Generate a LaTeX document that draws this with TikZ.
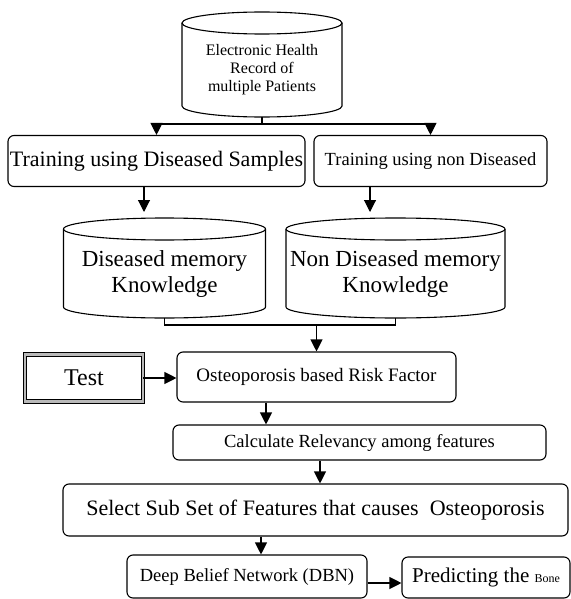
\documentclass[tikz,border=0pt]{standalone}
\usepackage{fontspec}
\setmainfont{Liberation Serif}
\usetikzlibrary{arrows.meta}

\tikzset{
  box/.style={draw, rounded corners=6pt, line width=1.1pt, inner sep=0pt, align=center},
  drum/.style={inner sep=0pt, align=center},
  link/.style={line width=1.1pt},
  arr/.style={line width=1.1pt, -{Triangle[length=12pt,width=12pt]}},
}

% outline of a data store round a text node
\newcommand{\drumoutline}[4]{%
  \coordinate (#1-top) at ([yshift=#3pt]#1.center);
  \coordinate (#1-bot) at ([yshift=-#4pt]#1.center);
  \draw[link] ([yshift=-11pt]#1-top) ellipse [x radius=#2pt, y radius=11pt];
  \draw[link] ([shift={(-#2pt,-11pt)}]#1-top) -- ([shift={(-#2pt,11pt)}]#1-bot)
    arc [start angle=180, end angle=360, x radius=#2pt, y radius=11pt]
    -- ([shift={(#2pt,-11pt)}]#1-top);
}

\newcommand{\fs}[1]{\fontsize{#1}{#1}\selectfont}

\begin{document}
\begin{tikzpicture}[x=1pt, y=-1pt]
  \useasboundingbox (0,0) rectangle (570,599);
  % data stores
  \node[drum, font=\fontsize{16}{18}\selectfont] (ehr) at (262,70)
    {Electronic Health\\Record of\\multiple Patients};
  \drumoutline{ehr}{80}{58}{47}
  \node[drum, font=\fontsize{23}{26}\selectfont] (dis) at (164.5,274)
    {Diseased memory\\Knowledge};
  \drumoutline{dis}{101}{56}{44}
  \node[drum, font=\fontsize{23}{26}\selectfont] (nondis) at (395.5,274)
    {Non Diseased memory\\Knowledge};
  \drumoutline{nondis}{109.5}{56}{44}
  % process boxes
  \node[box, minimum width=297pt, minimum height=51pt, font=\fs{22}] (train1) at (156.5,161)
    {Training using Diseased Samples};
  \node[box, minimum width=233pt, minimum height=51pt, font=\fs{18.5}] (train2) at (430.5,161)
    {Training using non Diseased};
  \node[draw, double=gray!55, double distance=2.5pt, line width=0.9pt, inner sep=0pt,
    minimum width=118pt, minimum height=47pt, font=\fs{24}] (test) at (84,378) {Test};
  \node[box, minimum width=279pt, minimum height=50pt, font=\fs{19}] (risk) at (316.5,377)
    {Osteoporosis based Risk Factor};
  \node[box, minimum width=373pt, minimum height=35pt, font=\fs{18.5}] (calc) at (359.5,442.5)
    {Calculate Relevancy among features};
  \node[box, minimum width=505pt, minimum height=52pt, font=\fs{22}] (select) at (315.5,510)
    {Select Sub Set of Features that causes~ Osteoporosis};
  \node[box, minimum width=240pt, minimum height=43pt, font=\fs{18.5}] (dbn) at (247,576.5)
    {Deep Belief Network (DBN)};
  \node[box, minimum width=168pt, minimum height=41pt, font=\fs{21}] (pred) at (486,577.5)
    {Predicting the {\fs{12}Bone}};
  % split and merge points
  \coordinate (split) at (262,124);
  \coordinate (merge) at (316.5,325);
  \coordinate (a1) at (144,0);
  \coordinate (a2) at (370,0);
  \coordinate (a3) at (266,0);
  \coordinate (a4) at (320,0);
  \coordinate (a5) at (261,0);
  \coordinate (a6) at (0,583);
  % connectors
  \draw[link] (ehr-bot) -- (split);
  \draw[arr] (split) -| (train1.north);
  \draw[arr] (split) -| (train2.north);
  \draw[arr, shorten >=6pt] (train1.south -| a1) -- (dis-top -| a1);
  \draw[arr, shorten >=6pt] (train2.south -| a2) -- (nondis-top -| a2);
  \draw[link] (dis-bot) |- (merge) -| (nondis-bot);
  \draw[arr] (merge) -- (risk.north);
  \draw[arr] (test.east) -- (test.east -| risk.west);
  \draw[arr] (risk.south -| a3) -- (calc.north -| a3);
  \draw[arr] (calc.south -| a4) -- (select.north -| a4);
  \draw[arr] (select.south -| a5) -- (dbn.north -| a5);
  \draw[arr] (dbn.east |- a6) -- (pred.west |- a6);
\end{tikzpicture}
\end{document}
